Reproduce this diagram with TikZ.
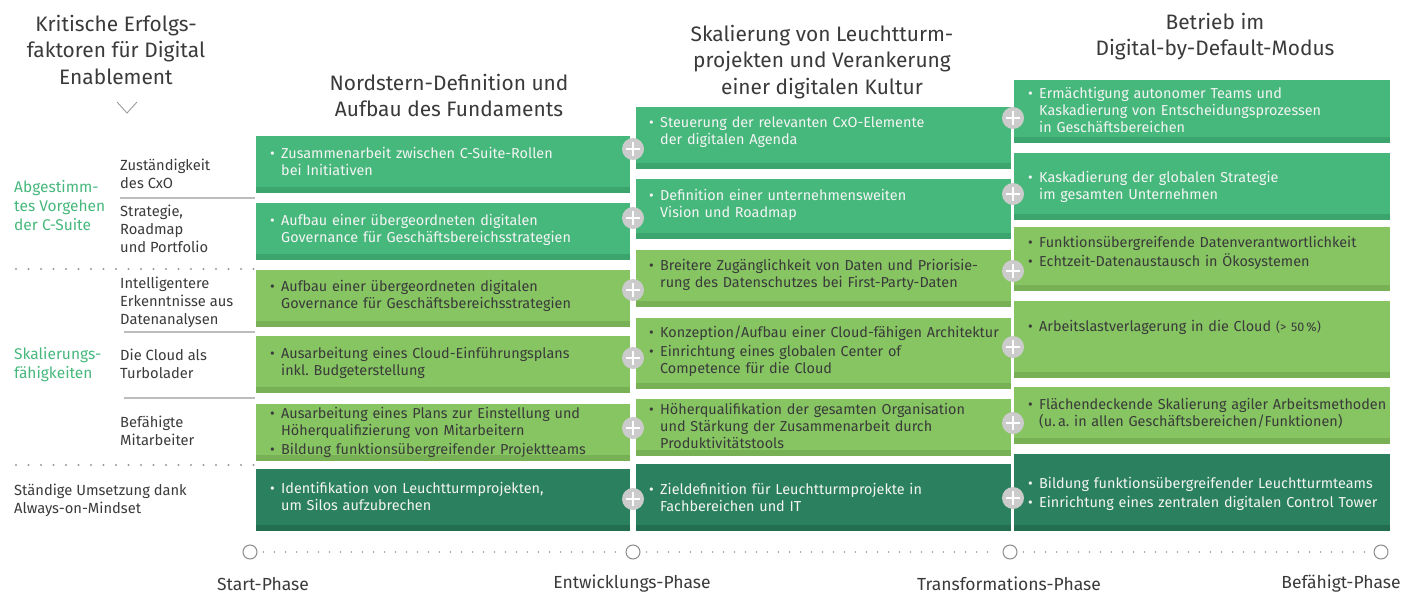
\documentclass[tikz,border=0pt]{standalone}
\usepackage{fontspec}
\setmainfont{Fira Sans}
\frenchspacing
\definecolor{cT}{HTML}{46B87C}
\definecolor{cTS}{HTML}{3BA56D}
\definecolor{cL}{HTML}{86C562}
\definecolor{cLS}{HTML}{77B055}
\definecolor{cD}{HTML}{2A805F}
\definecolor{cDS}{HTML}{236E51}
\definecolor{cP}{HTML}{CBCBCB}
\definecolor{cTxt}{HTML}{3A3A3A}
\definecolor{cWt}{HTML}{F4F4F4}
\definecolor{cLine}{HTML}{BDBDBD}
\definecolor{cDot}{HTML}{9A9A9A}
\newcommand\bi[1]{\par\noindent\hangindent=11pt\hangafter=1\makebox[11pt][l]{\textbullet}#1\par}
\newcommand\bsep{\vspace{2.5pt}}
\newcommand\gb[6]{%
  \node[gbox, fill=c#6,
    path picture={\fill[c#6S] (path picture bounding box.south west) rectangle ([yshift=6.5pt]path picture bounding box.south east);},
    minimum width={#4-#2}, minimum height={#5-#3}] (#1) at ({(#2+#4)/2},{(#3+#5)/2}) {};}
\newcommand\gt[5]{\node[gtext, text=#4] (#1) at (#2,{#3-11.8}) {#5};}
\begin{document}
\begin{tikzpicture}[x=1pt,y=-1pt,
  gbox/.style={rectangle, inner sep=0pt, draw=none},
  gtext/.style={anchor=north west, inner sep=0pt, align=left, text width=430pt, font=\fontsize{14.4}{16.9}\selectfont},
  plusbtn/.style={circle, fill=cP, minimum size=22pt, inner sep=0pt,
    path picture={\draw[white, line width=2.2pt]
      ([xshift=-7pt]path picture bounding box.center) -- ([xshift=7pt]path picture bounding box.center)
      ([yshift=-7pt]path picture bounding box.center) -- ([yshift=7pt]path picture bounding box.center);}},
  head/.style={anchor=north, inner sep=0pt, align=center, text=cTxt, font=\fontsize{20.9}{26.5}\selectfont},
  sublab/.style={anchor=north west, inner sep=0pt, align=left, text=cTxt, font=\fontsize{14.7}{18}\selectfont},
  grlab/.style={anchor=north west, inner sep=0pt, align=left, text=cT, font=\fontsize{15.5}{19.3}\selectfont},
  sepline/.style={draw=cLine, line width=1.2pt},
  dotline/.style={draw=cDot, line width=2.2pt, line cap=round, dash pattern=on 0pt off 12.5pt},
  tcirc/.style={circle, draw=cDot!90!black, line width=1pt, fill=white, minimum size=14pt, inner sep=0pt},
  tdots/.style={draw=cDot, line width=1.6pt, line cap=round, dash pattern=on 0pt off 11pt},
  phase/.style={anchor=center, inner sep=0pt, text=cTxt, font=\fontsize{17.5}{20}\selectfont}
]
\useasboundingbox (0,0) rectangle (1419,597);

% ---------- left column ----------
\node[head] (title) at (116,14.5) {Kritische Erfolgs-\\faktoren für Digital\\Enablement};
\coordinate (chl) at (117,102); \coordinate (chm) at (127,113); \coordinate (chr) at (137,102);
\draw[draw=cDot, line width=0.9pt] (chl) -- (chm) -- (chr);

\node[grlab] (g1) at (14,{186-6}) {Abgestimm-\\tes Vorgehen\\der C-Suite};
\node[grlab] (g2) at (14,{353-6}) {Skalierungs-\\fähigkeiten};

\node[sublab] (s1) at (120,{165-6}) {Zuständigkeit\\des CxO};
\node[sublab] (s2) at (120,{211-6}) {Strategie,\\Roadmap\\und Portfolio};
\node[sublab] (s3) at (120,{283-6}) {Intelligentere\\Erkenntnisse aus\\Datenanalysen};
\node[sublab] (s4) at (120,{355-6}) {Die Cloud als\\Turbolader};
\node[sublab] (s5) at (120,{422-6}) {Befähigte\\Mitarbeiter};
\node[sublab] (s6) at (14,{490-6}) {Ständige Umsetzung dank\\Always-on-Mindset};

\draw[sepline] (120,198) -- (255,198);
\draw[sepline] (124,332) -- (255,332);
\draw[sepline] (124,398) -- (255,398);
\draw[dotline] (16,269) -- (255,269);
\draw[dotline] (16,465) -- (255,465);

% ---------- headers ----------
\node[head] (h1) at (449,73.5) {Nordstern-Definition und\\Aufbau des Fundaments};
\node[head] (h2) at (822,24.5) {Skalierung von Leuchtturm-\\projekten und Verankerung\\einer digitalen Kultur};
\node[head] (h3) at (1215,12.5) {Betrieb im\\Digital-by-Default-Modus};

% ---------- column 1 ----------
\gb{b11}{256}{136}{630}{193}{T}
\gb{b12}{256}{203}{630}{260}{T}
\gb{b13}{256}{270}{630}{327}{L}
\gb{b14}{256}{336}{630}{393}{L}
\gb{b15}{256}{404}{630}{461}{L}
\gb{b16}{256}{469}{630}{531}{D}
\gt{t11}{270}{153}{cWt}{\bi{Zusammenarbeit zwischen C-Suite-Rollen\newline bei Initiativen}}
\gt{t12}{270}{220}{cWt}{\bi{Aufbau einer übergeordneten digitalen\newline Governance für Geschäftsbereichsstrategien}}
\gt{t13}{270}{286}{cTxt}{\bi{Aufbau einer übergeordneten digitalen\newline Governance für Geschäftsbereichsstrategien}}
\gt{t14}{270}{353}{cTxt}{\bi{Ausarbeitung eines Cloud-Einführungsplans\newline inkl. Budgeterstellung}}
\gt{t15}{270}{413}{cTxt}{\bi{Ausarbeitung eines Plans zur Einstellung und\newline Höherqualifizierung von Mitarbeitern}\bsep\bi{Bildung funktionsübergreifender Projektteams}}
\gt{t16}{270}{488}{cWt}{\bi{Identifikation von Leuchtturmprojekten,\newline um Silos aufzubrechen}}

% ---------- column 2 ----------
\gb{b21}{636}{107}{1011}{169}{T}
\gb{b22}{636}{179}{1011}{239}{T}
\gb{b23}{636}{250}{1011}{307}{L}
\gb{b24}{636}{318}{1011}{389}{L}
\gb{b25}{636}{399}{1011}{456}{L}
\gb{b26}{636}{464}{1011}{531}{D}
\gt{t21}{649}{122}{cWt}{\bi{Steuerung der relevanten CxO-Elemente\newline der digitalen Agenda}}
\gt{t22}{649}{195}{cWt}{\bi{Definition einer unternehmensweiten\newline Vision und Roadmap}}
\gt{t23}{649}{265}{cTxt}{\bi{Breitere Zugänglichkeit von Daten und Priorisie-\newline rung des Datenschutzes bei First-Party-Daten}}
\gt{t24}{649}{332}{cTxt}{\bi{Konzeption/Aufbau einer Cloud-fähigen Architektur}\bsep\bi{Einrichtung eines globalen Center of\newline Competence für die Cloud}}
\gt{t25}{649}{409}{cTxt}{\bi{Höherqualifikation der gesamten Organisation\newline und Stärkung der Zusammenarbeit durch\newline Produktivitätstools}}
\gt{t26}{649}{489}{cWt}{\bi{Zieldefinition für Leuchtturmprojekte in\newline Fachbereichen und IT}}

% ---------- column 3 ----------
\gb{b31}{1014}{80}{1390}{143}{T}
\gb{b32}{1014}{153}{1390}{220}{T}
\gb{b33}{1014}{227}{1390}{291}{L}
\gb{b34}{1014}{301}{1390}{378}{L}
\gb{b35}{1014}{387}{1390}{444}{L}
\gb{b36}{1014}{454}{1390}{531}{D}
\gt{t31}{1028}{93}{cWt}{\bi{Ermächtigung autonomer Teams und\newline Kaskadierung von Entscheidungsprozessen\newline in Geschäftsbereichen}}
\gt{t32}{1028}{177}{cWt}{\bi{Kaskadierung der globalen Strategie\newline im gesamten Unternehmen}}
\gt{t33}{1028}{242}{cTxt}{\bi{Funktionsübergreifende Datenverantwortlichkeit}\bsep\bi{Echtzeit-Datenaustausch in Ökosystemen}}
\gt{t34}{1028}{326}{cTxt}{\bi{Arbeitslastverlagerung in die Cloud {\fontsize{12.5}{15}\selectfont(> 50\,\%)}}}
\gt{t35}{1028}{404}{cTxt}{\bi{Flächendeckende Skalierung agiler Arbeitsmethoden\newline (u.\,a. in allen Geschäftsbereichen/Funktionen)}}
\gt{t36}{1028}{483}{cWt}{\bi{Bildung funktionsübergreifender Leuchtturmteams}\bsep\bi{Einrichtung eines zentralen digitalen Control Tower}}

% ---------- plus buttons ----------
\node[plusbtn] (p11) at (633,149) {};
\node[plusbtn] (p12) at (633,218) {};
\node[plusbtn] (p13) at (633,290) {};
\node[plusbtn] (p14) at (633,358) {};
\node[plusbtn] (p15) at (633,428) {};
\node[plusbtn] (p16) at (633,499) {};
\node[plusbtn] (p21) at (1013,118) {};
\node[plusbtn] (p22) at (1013,194) {};
\node[plusbtn] (p23) at (1013,271) {};
\node[plusbtn] (p24) at (1013,347) {};
\node[plusbtn] (p25) at (1013,423) {};
\node[plusbtn] (p26) at (1013,498) {};

% ---------- timeline ----------
\node[tcirc] (tc1) at (250,552) {};
\node[tcirc] (tc2) at (633,552) {};
\node[tcirc] (tc3) at (1010,552) {};
\node[tcirc] (tc4) at (1381,552) {};
\draw[tdots] ([xshift=6pt]tc1.east) -- ([xshift=-4pt]tc2.west);
\draw[tdots] ([xshift=6pt]tc2.east) -- ([xshift=-4pt]tc3.west);
\draw[tdots] ([xshift=6pt]tc3.east) -- ([xshift=-4pt]tc4.west);
\node[phase] (ph1) at (263,584) {Start-Phase};
\node[phase] (ph2) at (632,584) {Entwicklungs-Phase};
\node[phase] (ph3) at (1009,584) {Transformations-Phase};
\node[phase] (ph4) at (1341,584) {Befähigt-Phase};
\end{tikzpicture}
\end{document}
